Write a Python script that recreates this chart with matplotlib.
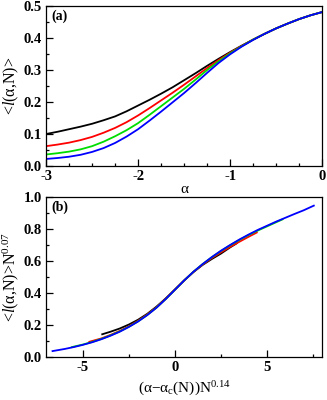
import matplotlib

matplotlib.use("Agg")
import matplotlib.pyplot as plt
from matplotlib.ticker import MultipleLocator

# panel (a): <l(alpha,N)> versus alpha for four system sizes
alpha = [-3, -2.875, -2.75, -2.625, -2.5, -2.375, -2.25, -2.125, -2, -1.875, -1.75, -1.625,
         -1.5, -1.375, -1.25, -1.125, -1, -0.875, -0.75, -0.625, -0.5, -0.375, -0.25, -0.125, 0]
l_black = [0.100, 0.107, 0.115, 0.123, 0.132, 0.143, 0.155, 0.171, 0.189, 0.207, 0.226, 0.246,
           0.268, 0.290, 0.313, 0.335, 0.356, 0.376, 0.395, 0.413, 0.430, 0.445, 0.459, 0.471, 0.481]
l_red = [0.062, 0.067, 0.073, 0.081, 0.091, 0.104, 0.119, 0.137, 0.158, 0.181, 0.205, 0.229,
         0.254, 0.280, 0.306, 0.331, 0.354, 0.375, 0.395, 0.413, 0.430, 0.445, 0.459, 0.471, 0.481]
l_green = [0.036, 0.040, 0.045, 0.052, 0.062, 0.076, 0.093, 0.112, 0.134, 0.160, 0.187, 0.214,
           0.241, 0.270, 0.300, 0.327, 0.352, 0.374, 0.395, 0.413, 0.430, 0.445, 0.459, 0.471, 0.481]
l_blue = [0.022, 0.025, 0.029, 0.035, 0.044, 0.056, 0.072, 0.092, 0.115, 0.142, 0.170, 0.199,
          0.228, 0.259, 0.291, 0.322, 0.349, 0.373, 0.394, 0.413, 0.430, 0.445, 0.459, 0.471, 0.481]

# panel (b): scaled collapse
xb_black = [-3.95, -3.5, -3, -2.5, -2, -1.5, -1, -0.5, 0, 0.5, 1, 1.5, 2, 2.5, 3, 3.35]
yb_black = [0.142, 0.158, 0.178, 0.203, 0.233, 0.270, 0.315, 0.366, 0.422, 0.478, 0.530, 0.575,
            0.612, 0.646, 0.685, 0.710]
xb_red = [-4.65, -4.5, -4, -3.5, -3, -2.5, -2, -1.5, -1, -0.5, 0, 0.5, 1, 1.5, 2, 2.5, 3, 3.5,
          4, 4.45]
yb_red = [0.095, 0.100, 0.116, 0.138, 0.163, 0.192, 0.226, 0.266, 0.311, 0.364, 0.421, 0.478,
          0.531, 0.577, 0.618, 0.654, 0.688, 0.720, 0.751, 0.778]
xb_green = [-5.6, -5, -4.5, -4, -3.5, -3, -2.5, -2, -1.5, -1, -0.5, 0, 0.5, 1, 1.5, 2, 2.5, 3,
            3.5, 4, 4.5, 5, 5.5, 5.85]
yb_green = [0.062, 0.078, 0.094, 0.113, 0.135, 0.160, 0.189, 0.223, 0.263, 0.309, 0.362, 0.420,
            0.478, 0.532, 0.580, 0.623, 0.662, 0.698, 0.731, 0.762, 0.790, 0.816, 0.842, 0.860]
xb_blue = [-6.65, -6.5, -6, -5.5, -5, -4.5, -4, -3.5, -3, -2.5, -2, -1.5, -1, -0.5, 0, 0.5, 1,
           1.5, 2, 2.5, 3, 3.5, 4, 4.5, 5, 5.5, 6, 6.5, 7, 7.55]
yb_blue = [0.037, 0.040, 0.050, 0.062, 0.076, 0.092, 0.111, 0.133, 0.158, 0.188, 0.222, 0.262,
           0.308, 0.362, 0.420, 0.478, 0.532, 0.580, 0.624, 0.664, 0.700, 0.734, 0.765, 0.794,
           0.820, 0.846, 0.870, 0.894, 0.917, 0.946]

COLORS = ["black", "red", "#00dd00", "blue"]

plt.rcParams["font.family"] = "Liberation Serif"
plt.rcParams["mathtext.fontset"] = "custom"
plt.rcParams["mathtext.rm"] = "Liberation Serif"
plt.rcParams["mathtext.it"] = "Liberation Serif:italic"


def style(ax):
    ax.tick_params(which="both", direction="in", top=False, right=False, width=0.9)
    ax.tick_params(which="major", length=5, labelsize=10.5, pad=3)
    ax.tick_params(which="minor", length=2.5)
    for lab in ax.get_xticklabels() + ax.get_yticklabels():
        lab.set_fontweight("bold")
    for sp in ax.spines.values():
        sp.set_linewidth(0.9)


fig = plt.figure(figsize=(3.27, 4.0), dpi=100)
ax1 = fig.add_axes([0.141, 0.585, 0.844, 0.40])
ax2 = fig.add_axes([0.141, 0.1075, 0.844, 0.40])

for ys, c in zip([l_black, l_red, l_green, l_blue], COLORS):
    ax1.plot(alpha, ys, color=c, lw=1.3)
ax1.set_xlim(-3, 0)
ax1.set_ylim(0, 0.5)
ax1.xaxis.set_minor_locator(MultipleLocator(0.25))
ax1.yaxis.set_major_locator(MultipleLocator(0.1))
ax1.yaxis.set_minor_locator(MultipleLocator(0.05))
ax1.set_xticks([-3, -2, -1, 0], ["-3", "-2", "-1", "0"])
style(ax1)
ax1.set_xlabel("α", fontsize=11, labelpad=0)
ax1.set_ylabel(r"<$\mathit{l}$(α,N)>", fontsize=11.5, labelpad=2)
ax1.text(0.02, 0.975, "(a)", transform=ax1.transAxes, fontsize=10, fontweight="bold", va="top")

for xs, ys, c in zip([xb_black, xb_red, xb_green, xb_blue],
                     [yb_black, yb_red, yb_green, yb_blue], COLORS):
    ax2.plot(xs, ys, color=c, lw=1.3)
ax2.set_xlim(-7, 8)
ax2.set_ylim(0, 1.0)
ax2.xaxis.set_minor_locator(MultipleLocator(2.5))
ax2.yaxis.set_major_locator(MultipleLocator(0.2))
ax2.yaxis.set_minor_locator(MultipleLocator(0.1))
ax2.set_xticks([-5, 0, 5], ["-5", "0", "5"])
style(ax2)
ax2.set_xlabel(r"(α−α$_\mathrm{c}$(N))N$^{0.14}$", fontsize=11, labelpad=4)
ax2.set_ylabel(r"<$\mathit{l}$(α,N)>N$^{0.07}$", fontsize=11.5, labelpad=2)
ax2.text(0.02, 0.975, "(b)", transform=ax2.transAxes, fontsize=10, fontweight="bold", va="top")

fig.savefig("out.png", dpi=100)
